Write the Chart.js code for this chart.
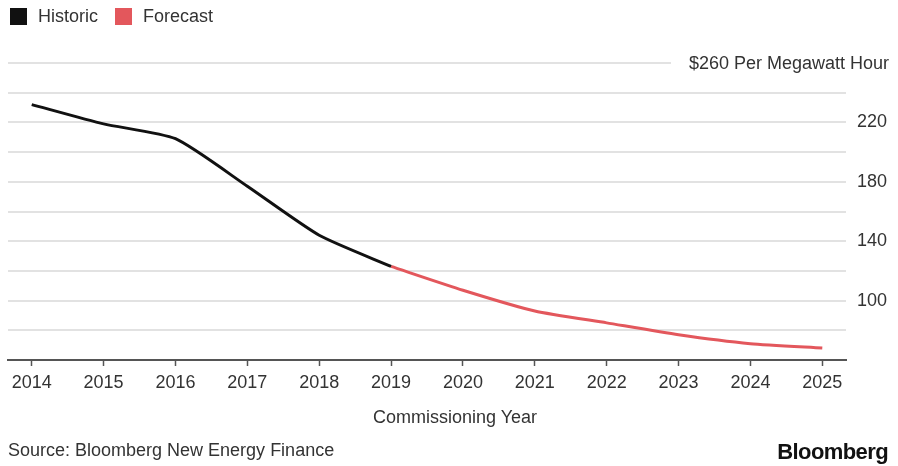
<!DOCTYPE html>
<html>
<head>
<meta charset="utf-8">
<script src="https://cdn.jsdelivr.net/npm/chart.js@4/dist/chart.umd.min.js"></script>
<style>
  body { margin: 0; background: #fff; font-family: "Liberation Sans", Arial, Helvetica, sans-serif; color: #333; }
  #wrap { position: relative; width: 898px; height: 466px; }
  #legend { position: absolute; left: 10px; top: 6px; font-size: 18px; display: flex; align-items: center; }
  #legend .box { width: 17px; height: 17px; display: inline-block; margin-right: 11px; }
  #legend .item { display: flex; align-items: center; margin-right: 17px; }
  #xtitle { position: absolute; left: 373px; top: 407px; font-size: 18px; }
  #source { position: absolute; left: 8px; top: 440px; font-size: 18px; }
  #brand { position: absolute; right: 10px; top: 439px; font-size: 22px; font-weight: bold; color: #111; letter-spacing: -0.6px; }
</style>
</head>
<body>
<div id="wrap">
  <canvas id="chart" width="898" height="466"></canvas>
  <div id="legend"></div>
  <div id="xtitle">Commissioning Year</div>
  <div id="source">Source: Bloomberg New Energy Finance</div>
  <div id="brand">Bloomberg</div>
</div>
<script>
// data ($ per megawatt hour)
const historicYears = [2014, 2015, 2016, 2017, 2018, 2019];
const historicValues = [232, 219, 209, 177, 144, 123];
const forecastYears = [2019, 2020, 2021, 2022, 2023, 2024, 2025];
const forecastValues = [123, 107, 93, 85, 77, 71, 68];
const yearTicks = [2014, 2015, 2016, 2017, 2018, 2019, 2020, 2021, 2022, 2023, 2024, 2025];
const yLabels = [100, 140, 180, 220];
const topTick = 260;
const unitLabel = "$260 Per Megawatt Hour";

const font = "'Liberation Sans', Arial, Helvetica, sans-serif";
const textColor = "#333";

function toPoints(xs, ys) {
    return xs.map((x, i) => ({ x: x, y: ys[i] }));
}

const datasets = [
    { label: "Historic", data: toPoints(historicYears, historicValues), borderColor: "#111", backgroundColor: "#111" },
    { label: "Forecast", data: toPoints(forecastYears, forecastValues), borderColor: "#e3575c", backgroundColor: "#e3575c" }
];

// simple html legend
const legendEl = document.getElementById("legend");
datasets.forEach(ds => {
    const item = document.createElement("span");
    item.className = "item";
    item.innerHTML = `<span class="box" style="background:${ds.backgroundColor}"></span>${ds.label}`;
    legendEl.appendChild(item);
});

// draws the "$260 Per Megawatt Hour" label over the top gridline
const topLabel = {
    id: "topLabel",
    afterDraw(chart) {
        const ctx = chart.ctx;
        const y = chart.scales.y.getPixelForValue(topTick);
        ctx.save();
        ctx.fillStyle = "#fff";
        ctx.fillRect(671, y - 3, 180, 6);
        ctx.font = "18px " + font;
        ctx.fillStyle = textColor;
        ctx.textAlign = "right";
        ctx.textBaseline = "middle";
        ctx.fillText(unitLabel, 889, y + 1);
        ctx.restore();
    }
};

new Chart(document.getElementById("chart"), {
    type: "line",
    data: { datasets: datasets },
    plugins: [topLabel],
    options: {
        responsive: false,
        animation: false,
        layout: { padding: { left: 8, top: 63, right: 0, bottom: 34 } },
        elements: {
            point: { radius: 0 },
            line: { borderWidth: 3, tension: 0.2, borderCapStyle: "butt" }
        },
        plugins: { legend: { display: false }, tooltip: { enabled: false } },
        scales: {
            x: {
                type: "linear",
                min: 2013.67,
                max: 2025.33,
                afterBuildTicks: s => { s.ticks = yearTicks.map(v => ({ value: v })); },
                afterFit: s => { s.height = 72; },
                grid: { drawOnChartArea: false, drawTicks: true, tickLength: 6, tickColor: "#555", tickWidth: 1.5 },
                border: { color: "#555", width: 2 },
                ticks: {
                    padding: 6,
                    color: textColor,
                    maxRotation: 0,
                    autoSkip: false,
                    font: { family: font, size: 18 },
                    callback: v => String(v)
                },
                title: { display: false }
            },
            y: {
                position: "right",
                min: 60,
                max: topTick,
                afterFit: s => { s.width = 52; },
                grid: {
                    drawTicks: false,
                    lineWidth: 2,
                    color: c => (c.tick && c.tick.value === 60) ? "rgba(0,0,0,0)" : "#e2e2e2"
                },
                border: { display: false },
                ticks: {
                    stepSize: 20,
                    padding: 11,
                    color: textColor,
                    font: { family: font, size: 18 },
                    callback: v => yLabels.includes(v) ? String(v) : ""
                }
            }
        }
    }
});
</script>
</body>
</html>
